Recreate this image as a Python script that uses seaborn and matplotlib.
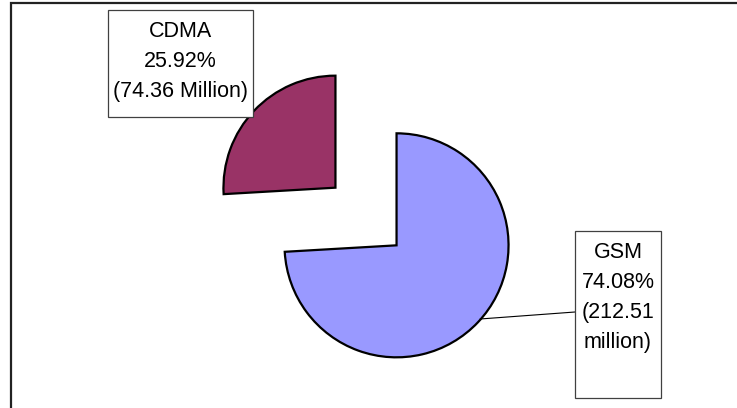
import matplotlib
matplotlib.use("Agg")
import matplotlib.pyplot as plt
from matplotlib.patches import Rectangle
import seaborn as sns

# ---- data ----
categories = ["GSM", "CDMA"]
shares = [74.08, 25.92]
subscribers_text = ["(212.51\nmillion)", "(74.36 Million)"]
colors = ["#9999FF", "#993366"]

sns.set_theme(style="white")
plt.rcParams["font.family"] = ["Liberation Sans", "DejaVu Sans"]

W, H = 737, 408
fig = plt.figure(figsize=(W / 100, H / 100), dpi=100)
ax = fig.add_axes([0, 0, 1, 1])

def Y(py):
    return H - py

ax.pie(shares, colors=colors, startangle=90, counterclock=False,
       explode=[42, 42], radius=112, center=(366, Y(216.5)),
       wedgeprops=dict(edgecolor="black", linewidth=1.6))

ax.set_xlim(0, W)
ax.set_ylim(0, H)
ax.set_aspect("equal")
ax.axis("off")

# chart border (left and top visible)
ax.plot([11, 11, W], [0, Y(2.5), Y(2.5)], color="#222222", lw=1.6,
        solid_joinstyle="miter", clip_on=False)

# label boxes
def label_box(x0, y0, x1, y1, cx, baselines, lines):
    ax.add_patch(Rectangle((x0, Y(y1)), x1 - x0, y1 - y0, facecolor="white",
                           edgecolor="#404040", lw=0.9, zorder=3))
    for b, t in zip(baselines, lines):
        ax.text(cx, Y(b), t, ha="center", va="baseline", fontsize=15.5,
                color="black", zorder=4)

gsm_lines = [categories[0], f"{shares[0]:.2f}%"] + subscribers_text[0].split("\n")
cdma_lines = [categories[1], f"{shares[1]:.2f}%", subscribers_text[1]]

label_box(108, 10, 253, 117, 180.5, [37, 67, 97], cdma_lines)
label_box(575, 231, 661, 398, 618, [258, 288, 318, 348], gsm_lines)

# leader line for GSM
ax.plot([480, 575], [Y(319), Y(312)], color="black", lw=0.8, zorder=2)

fig.savefig("out.png", dpi=100, facecolor="white")
